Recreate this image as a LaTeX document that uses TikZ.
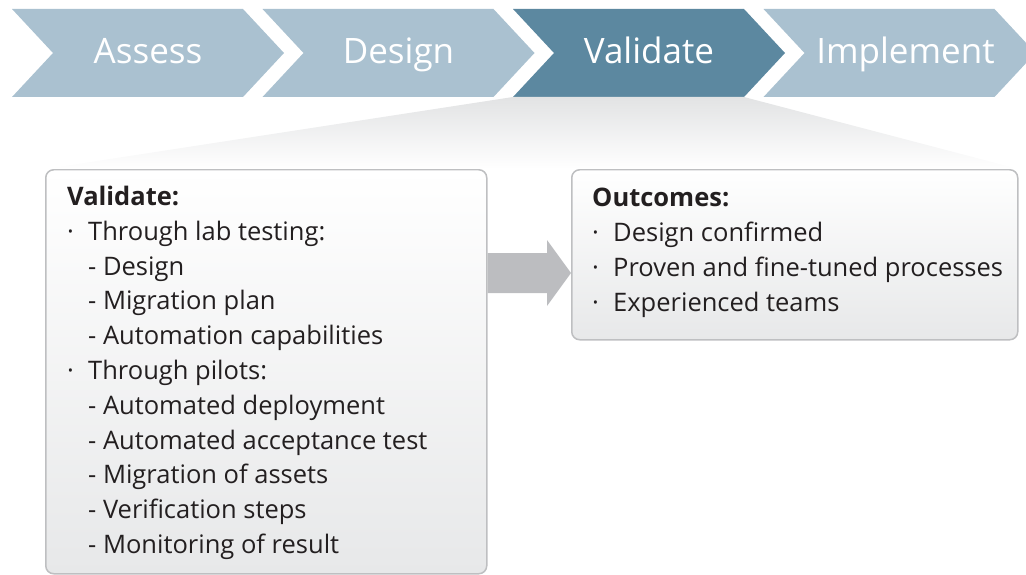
\documentclass[tikz,border=0pt]{standalone}
\usepackage{fontspec}
\setmainfont{Open Sans}[Ligatures={NoCommon}]
\usetikzlibrary{calc}

\definecolor{chevlight}{RGB}{170,193,208}
\definecolor{chevdark}{RGB}{92,136,160}
\definecolor{boxline}{RGB}{190,191,193}
\definecolor{boxfill}{RGB}{231,232,233}
\definecolor{arrowgray}{RGB}{188,189,192}
\definecolor{fangray}{RGB}{226,227,228}
\definecolor{textdark}{RGB}{35,31,32}

\tikzset{
  chevlabel/.style={text=white,font=\fontsize{35}{41}\selectfont,inner sep=0pt,anchor=base},
  infobox/.style={draw=boxline,line width=1.5pt,rounded corners=8pt,top color=white,
    bottom color=boxfill,anchor=north west,inner sep=0pt},
  infotext/.style={anchor=north west,align=left,text=textdark,inner sep=0pt,
    font=\fontsize{25.5}{34.8}\selectfont},
}
\newcommand{\bul}{\makebox[21pt][l]{·}}
\newcommand{\ind}{\hspace*{21pt}}

\begin{document}
\begin{tikzpicture}[x=1pt,y=-1pt]
\useasboundingbox (0,0) rectangle (1026,575);

\begin{scope}
\fill[chevlight] (12,9) -- (243,9) -- (284,53) -- (243,97) -- (12,97) -- (53,53) -- cycle;
\node[chevlabel] (assess) at (148,64) {Assess};
\end{scope}

\begin{scope}[xshift=250.5pt]
\fill[chevlight] (12,9) -- (243,9) -- (284,53) -- (243,97) -- (12,97) -- (53,53) -- cycle;
\node[chevlabel] (design) at (148,64) {Design};
\end{scope}

\begin{scope}[xshift=501pt]
\fill[chevdark] (12,9) -- (243,9) -- (284,53) -- (243,97) -- (12,97) -- (53,53) -- cycle;
\node[chevlabel] (validate) at (148,64) {Validate};
\coordinate (fanl) at (12,97);
\coordinate (fanr) at (243,97);
\end{scope}

\begin{scope}[xshift=751.5pt]
\fill[chevlight] (12,9) -- (243,9) -- (284,53) -- (243,97) -- (12,97) -- (53,53) -- cycle;
\node[chevlabel] (implement) at (154,64) {Implement};
\end{scope}

\node[infobox,minimum width=441pt,minimum height=404pt] (valbox) at (45,169) {};
\node[infobox,minimum width=446pt,minimum height=170pt] (outbox) at (571,169) {};

\shade[top color=fangray,bottom color=white] (fanl) -- (fanr) -- (outbox.north east) -- (valbox.north west) -- cycle;

\node[infotext] (valtext) at ($(valbox.north west)+(22,17)$) {%
  \textbf{Validate:}\\
  \bul Through lab testing:\\
  \ind- Design\\
  \ind- Migration plan\\
  \ind- Automation capabilities\\
  \bul Through pilots:\\
  \ind- Automated deployment\\
  \ind- Automated acceptance test\\
  \ind- Migration of assets\\
  \ind- Verification steps\\
  \ind- Monitoring of result};

\node[infotext] (outtext) at ($(outbox.north west)+(21,19)$) {%
  \textbf{Outcomes:}\\
  \bul Design confirmed\\
  \bul Proven and fine-tuned processes\\
  \bul Experienced teams};

\coordinate (arrs) at (valbox.east |- 0,273);
\coordinate (arre) at (outbox.west |- 0,273);
\fill[arrowgray] ($(arrs)+(0,-20)$) -- ($(arre)+(-24,-20)$) -- ($(arre)+(-24,-33)$) -- (arre)
  -- ($(arre)+(-24,33)$) -- ($(arre)+(-24,20)$) -- ($(arrs)+(0,20)$) -- cycle;

\end{tikzpicture}
\end{document}
